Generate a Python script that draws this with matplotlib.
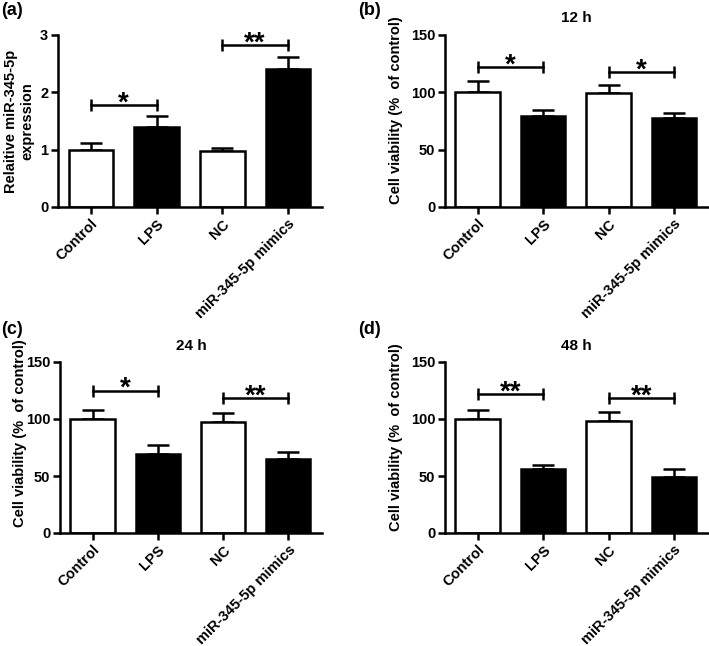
import matplotlib
matplotlib.use("Agg")
import matplotlib.pyplot as plt
import numpy as np

plt.rcParams['font.family'] = ['Liberation Sans', 'DejaVu Sans']
plt.rcParams['font.weight'] = 'bold'

categories = ["Control", "LPS", "NC", "miR-345-5p mimics"]
bar_colors = ["white", "black", "white", "black"]

# (a) relative expression
a_means = [1.0, 1.40, 0.98, 2.40]
a_errs = [0.11, 0.18, 0.05, 0.22]
a_sig = [(0, 1, 1.78, "*"), (2, 3, 2.83, "**")]

# (b) 12 h
b_means = [100, 79, 99, 78]
b_errs = [10, 5.5, 7, 4]
b_sig = [(0, 1, 122, "*"), (2, 3, 118, "*")]

# (c) 24 h
c_means = [100, 69, 97, 65]
c_errs = [8, 8, 8, 6]
c_sig = [(0, 1, 125, "*"), (2, 3, 118, "**")]

# (d) 48 h
d_means = [100, 56, 98, 49]
d_errs = [8, 4, 8, 7]
d_sig = [(0, 1, 122, "**"), (2, 3, 118, "**")]

W, H = 709, 646
fig = plt.figure(figsize=(W / 100, H / 100), dpi=100)


def px_axes(l, r, b, t):
    return fig.add_axes([l / W, 1 - b / H, (r - l) / W, (b - t) / H])


def draw(ax, means, errs, sig, ymax, yticks, ylabel, label_xy, title=None):
    x = np.arange(len(categories))
    ax.bar(x, means, width=0.68, color=bar_colors, edgecolor='black',
           linewidth=1.8, zorder=2)
    ax.errorbar(x, means, yerr=[np.zeros(len(errs)), errs], fmt='none',
                ecolor='black', elinewidth=1.8, capsize=8, capthick=1.8, zorder=1)
    for i, j, y, s in sig:
        ax.plot([i, j], [y, y], color='black', lw=1.8, marker='|',
                markersize=9, mew=1.8, clip_on=False)
        ax.annotate(s, xy=((i + j) / 2, y), xytext=(0, -4), textcoords='offset points',
                    ha='center', va='baseline', fontsize=20, fontweight='bold')
    ax.set_xlim(-0.5, 3.52)
    ax.set_ylim(0, ymax)
    ax.set_yticks(yticks)
    ax.set_xticks(x)
    ax.set_xticklabels(categories, rotation=45, ha='right', rotation_mode='anchor',
                       fontsize=10.5, fontweight='bold')
    for lab in ax.get_yticklabels():
        lab.set_fontsize(10.5)
        lab.set_fontweight('bold')
    ax.spines['top'].set_visible(False)
    ax.spines['right'].set_visible(False)
    ax.spines['left'].set_linewidth(1.8)
    ax.spines['bottom'].set_linewidth(1.8)
    ax.tick_params(axis='both', width=1.8, length=5, direction='out', pad=2)
    ax.set_ylabel(ylabel, fontsize=10.5, fontweight='bold')
    ax.yaxis.set_label_coords(*label_xy)
    if title:
        ax.set_title(title, fontsize=11, fontweight='bold', pad=9)


ax_a = px_axes(58, 322, 207, 35)
draw(ax_a, a_means, a_errs, a_sig, 3, [0, 1, 2, 3], "Relaitive miR-345-5p\nexpression",
     (-0.09, 0.5))
ax_b = px_axes(445, 708, 207, 35)
draw(ax_b, b_means, b_errs, b_sig, 150, [0, 50, 100, 150], "Cell viability (%  of control)",
     (-0.16, 0.565), "12 h")
ax_c = px_axes(60, 322, 533, 362)
draw(ax_c, c_means, c_errs, c_sig, 150, [0, 50, 100, 150], "Cell viability (%  of control)",
     (-0.125, 0.585), "24 h")
ax_d = px_axes(445, 708, 533, 362)
draw(ax_d, d_means, d_errs, d_sig, 150, [0, 50, 100, 150], "Cell viability (%  of control)",
     (-0.16, 0.56), "48 h")

for lbl, xp, yp in [("(a)", 1, 2), ("(b)", 358, 2), ("(c)", 1, 321), ("(d)", 358, 321)]:
    fig.text(xp / W, 1 - yp / H, lbl, ha='left', va='top', fontsize=13, fontweight='bold')

fig.savefig("out.png", dpi=100)
